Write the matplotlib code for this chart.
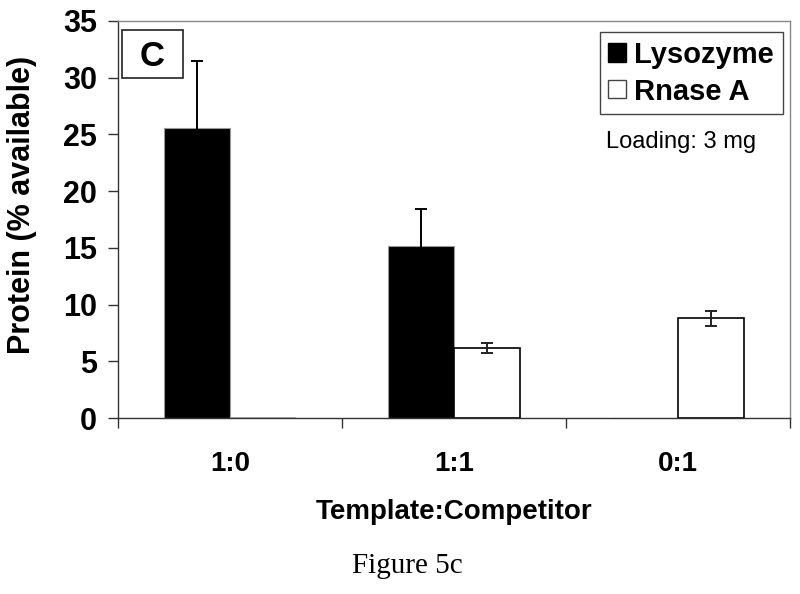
import matplotlib
matplotlib.use("Agg")
import matplotlib.pyplot as plt
from matplotlib.patches import Patch, Rectangle
import numpy as np

categories = ["1:0", "1:1", "0:1"]
lysozyme = [25.6, 15.2, 0.0]
lysozyme_err = [5.9, 3.2, 0.0]
rnase = [0.0, 6.15, 8.8]
rnase_err = [0.0, 0.45, 0.65]
series_names = ["Lysozyme", "Rnase A"]
yticks = [0, 5, 10, 15, 20, 25, 30, 35]

plt.rcParams['font.family'] = ['Liberation Sans', 'DejaVu Sans']

fig = plt.figure(figsize=(8, 5.94), dpi=100)
ax = fig.add_axes([118/800, 1-418/594, 672/800, 397/594])

x = np.arange(len(categories))
w = 0.295
ax.bar(x - w/2, lysozyme, w, color='black', edgecolor='#999999', linewidth=0.8, zorder=2)
ax.bar(x + w/2, rnase, w, color='white', edgecolor=['#aaaaaa' if v == 0 else 'black' for v in rnase],
       linewidth=1.2, zorder=2)
mask_l = [e > 0 for e in lysozyme_err]
mask_r = [e > 0 for e in rnase_err]
ax.errorbar((x - w/2)[mask_l], np.array(lysozyme)[mask_l], yerr=np.array(lysozyme_err)[mask_l],
            fmt='none', ecolor='black', elinewidth=1.4, capsize=4.5, capthick=1.4, zorder=3)
ax.errorbar((x + w/2)[mask_r], np.array(rnase)[mask_r], yerr=np.array(rnase_err)[mask_r],
            fmt='none', ecolor='#222222', elinewidth=1.4, capsize=4.5, capthick=1.4, zorder=3)

ax.set_xlim(-0.5, 2.5)
ax.set_ylim(0, 35)
ax.set_yticks(yticks)
ax.set_yticklabels([str(t) for t in yticks], fontsize=22, fontweight='bold')
ax.tick_params(axis='y', direction='out', length=7, width=1, pad=8, colors='#333333', labelcolor='black')

ax.set_xticks([-0.5, 0.5, 1.5, 2.5])
ax.set_xticklabels([])
ax.set_xticks(x, minor=True)
ax.set_xticklabels(categories, minor=True, fontsize=20, fontweight='bold')
ax.tick_params(axis='x', which='major', direction='out', length=7, width=1, colors='#333333')
ax.tick_params(axis='x', which='minor', length=0, pad=24)

for s in ['left', 'bottom']:
    ax.spines[s].set_color('#333333')
    ax.spines[s].set_linewidth(1.0)
for s in ['top', 'right']:
    ax.spines[s].set_color('#888888')
    ax.spines[s].set_linewidth(1.0)

ax.set_xlabel("Template:Competitor", fontsize=20, fontweight='bold')
ax.xaxis.set_label_coords(0.5, -0.203)
ax.set_ylabel("Protein (% available)", fontsize=22, fontweight='bold')
ax.yaxis.set_label_coords(-0.12, 0.537)

handles = [Patch(facecolor='black', edgecolor='black'),
           Patch(facecolor='white', edgecolor='#444444')]
leg = ax.legend(handles, series_names, loc='upper right',
                bbox_to_anchor=(783/800, 1-32/594), bbox_transform=fig.transFigure,
                prop={'size': 21, 'weight': 'bold'}, fancybox=False, framealpha=1,
                edgecolor='#444444', borderpad=0.3, handlelength=0.6, handleheight=0.6,
                handletextpad=0.3, labelspacing=0.3, borderaxespad=0)
leg.get_frame().set_linewidth(1.0)

ax.text(606/800, 1-142/594, "Loading: 3 mg", transform=fig.transFigure, fontsize=17,
        va='center', ha='left')

rect = Rectangle((122/800, 1-78/594), 61/800, 48/594, transform=fig.transFigure,
                 facecolor='white', edgecolor='#222222', linewidth=1.2, clip_on=False, zorder=5)
ax.add_patch(rect)
ax.text(152.5/800, 1-56/594, "C", transform=fig.transFigure, fontsize=25, fontweight='bold',
        ha='center', va='center', zorder=6)

fig.text(407/800, 1-566/594, "Figure 5c", family=['Liberation Serif', 'DejaVu Serif'],
         fontsize=21, ha='center', va='center')

fig.savefig("out.png", dpi=100)
